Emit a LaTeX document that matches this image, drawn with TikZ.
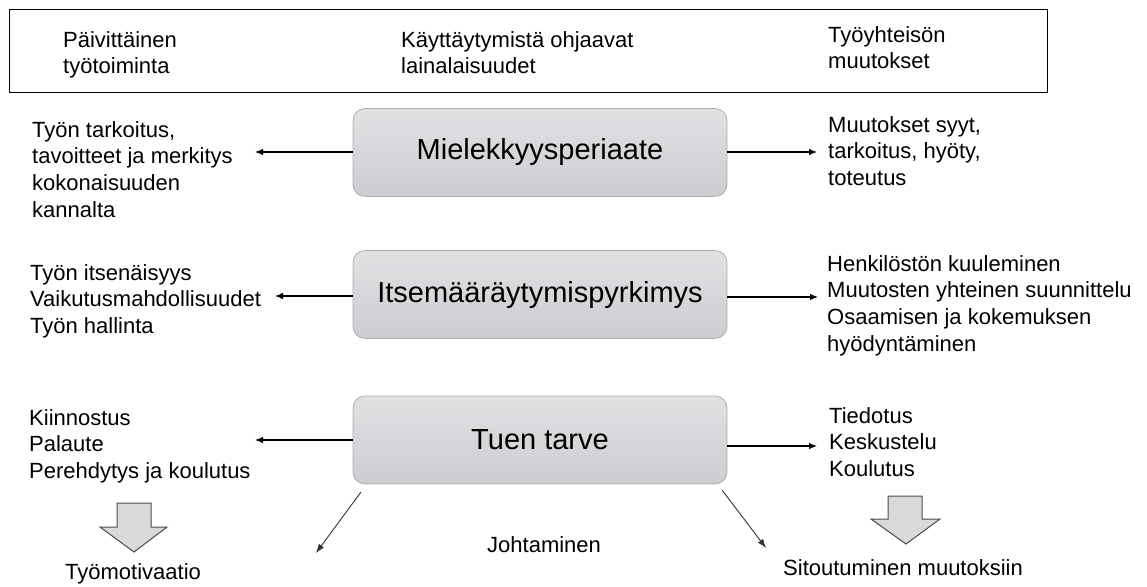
\documentclass[tikz,border=0pt]{standalone}
\usepackage{fontspec}
\setmainfont{Liberation Sans}
\usetikzlibrary{arrows.meta}
\definecolor{boxtop}{RGB}{224,225,227}
\definecolor{boxbot}{RGB}{204,205,208}
\definecolor{boxline}{RGB}{172,174,178}
\definecolor{blockfill}{RGB}{217,217,217}
\begin{document}
\begin{tikzpicture}[x=1pt,y=-1pt,
  % multi-line labels are anchored at the baseline of their last line
  lbl/.style={inner sep=0pt, anchor=base west, align=left,
    font=\fontsize{22}{26.7}\selectfont},
  mainbox/.style={draw=boxline, line width=0.8pt, rounded corners=12pt,
    top color=boxtop, bottom color=boxbot, minimum width=374pt,
    minimum height=88pt, inner sep=0pt, font=\fontsize{29}{34}\selectfont},
  arr/.style={-{Latex[length=8pt,width=6.5pt]}, line width=1.1pt},
  diagarr/.style={-{Latex[length=9pt,width=6.5pt]}, line width=0.9pt, draw=black!80},
  blockarrow/.style={fill=blockfill, draw=black!70, line width=1pt, line join=miter}
]
\useasboundingbox (0,0) rectangle (1147,586);

% header band
\node (hdr) [draw, line width=1.2pt, anchor=north west, minimum width=1038pt,
  minimum height=83pt, inner sep=0pt] at (9,9) {};
\node (h1) [lbl] at (63,73.7) {Päivittäinen\\työtoiminta};
\node (h2) [lbl] at (401,73.7) {Käyttäytymistä ohjaavat\\lainalaisuudet};
\node (h3) [lbl] at (828,68.7) {Työyhteisön\\muutokset};

% three principle boxes
\node (m1) [mainbox] at (540,152.5) {Mielekkyysperiaate};
\node (m2) [mainbox] at (540,294.5) {Itsemääräytymispyrkimys};
\node (m3) [mainbox] at (540,440) {Tuen tarve};

% left-hand texts
\node (l1) [lbl] at (32,217.1) {Työn tarkoitus,\\tavoitteet ja merkitys\\kokonaisuuden\\kannalta};
\node (l2) [lbl] at (30,333.4) {Työn itsenäisyys\\Vaikutusmahdollisuudet\\Työn hallinta};
\node (l3) [lbl] at (29,478.4) {Kiinnostus\\Palaute\\Perehdytys ja koulutus};

% right-hand texts
\node (r1) [lbl] at (828,185.4) {Muutokset syyt,\\tarkoitus, hyöty,\\toteutus};
\node (r2) [lbl] at (827,351.1) {Henkilöstön kuuleminen\\Muutosten yhteinen suunnittelu\\Osaamisen ja kokemuksen\\hyödyntäminen};
\node (r3) [lbl] at (829,476.4) {Tiedotus\\Keskustelu\\Koulutus};

% bottom texts
\node (lead) [lbl] at (487,552) {Johtaminen};
\node (motiv) [lbl] at (65,579) {Työmotivaatio};
\node (commit) [lbl] at (783,575) {Sitoutuminen muutoksiin};

% arrow ends
\coordinate (e1l) at (255,152);
\coordinate (e1r) at (817,152);
\coordinate (e2l) at (275,296);
\coordinate (e2r) at (818,297);
\coordinate (e3l) at (255,440);
\coordinate (e3r) at (817,446);
\coordinate (d1s) at (361,492);
\coordinate (d1e) at (316,553);
\coordinate (d2s) at (722,490);
\coordinate (d2e) at (766,548);

\draw[arr] (m1.west |- e1l) -- (e1l);
\draw[arr] (m1.east |- e1r) -- (e1r);
\draw[arr] (m2.west |- e2l) -- (e2l);
\draw[arr] (m2.east |- e2r) -- (e2r);
\draw[arr] (m3.west |- e3l) -- (e3l);
\draw[arr] (m3.east |- e3r) -- (e3r);
\draw[diagarr] (d1s) -- (d1e);
\draw[diagarr] (d2s) -- (d2e);

% block arrows pointing down
\draw[blockarrow] (117,503) -- (151,503) -- (151,527) -- (167,527) -- (134,552)
  -- (100,527) -- (117,527) -- cycle;
\draw[blockarrow] (888,496) -- (922,496) -- (922,519) -- (940,519) -- (906,544)
  -- (871,519) -- (888,519) -- cycle;
\end{tikzpicture}
\end{document}
